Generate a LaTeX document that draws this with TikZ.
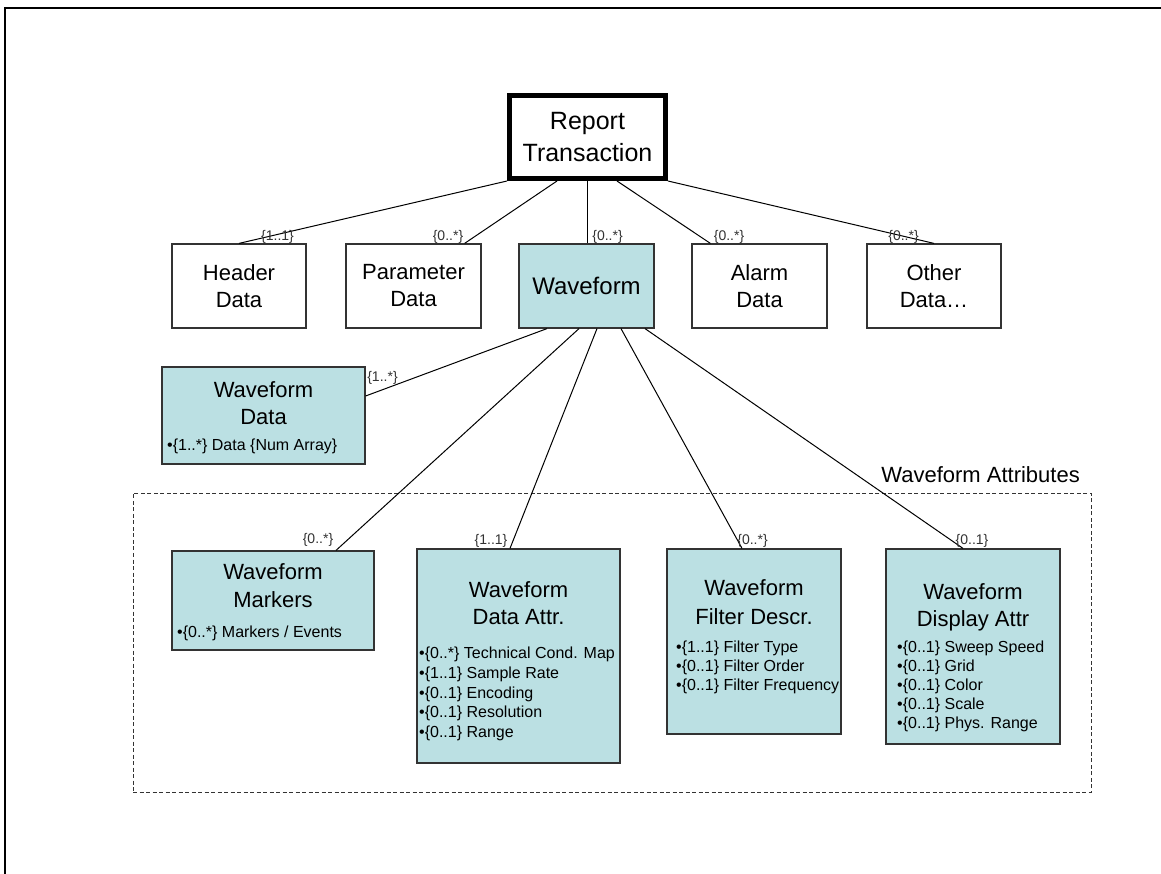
\documentclass[tikz,border=0pt]{standalone}
\usepackage{fontspec}
\setmainfont{Liberation Sans}
\definecolor{wfblue}{HTML}{BBE0E3}
\begin{document}
\begin{tikzpicture}[x=1pt,y=-1pt,
  box/.style={draw=black!80, line width=1.2pt, inner sep=0pt, align=center},
  bluebox/.style={box, fill=wfblue},
  conn/.style={draw=black, line width=1pt},
  mult/.style={font=\fontsize{14}{14}\selectfont, text=black!80, inner sep=0pt, anchor=base},
  ttl/.style={font=\fontsize{22}{22}\selectfont, inner sep=0pt, anchor=base},
  bul/.style={font=\fontsize{16}{16}\selectfont, inner sep=0pt, anchor=base west},
  topfont/.style={font=\fontsize{22}{27}\selectfont}]
\useasboundingbox (0,0) rectangle (1161,874);
% page frame (top and left edges)
\draw[line width=2pt] (5,874) -- (5,8) -- (1161,8);

% root
\node[box, line width=5pt, draw=black, minimum width=156pt, minimum height=83pt,
      font=\fontsize{25}{32}\selectfont] (rt) at (587.5,137) {Report\\Transaction};

% first level
\node[box, topfont, minimum width=134pt, minimum height=84pt] (hd) at (239,286) {Header\\Data};
\node[box, topfont, minimum width=135pt, minimum height=84pt] (pd) at (413.5,286) {Parameter\\Data};
\node[bluebox, font=\fontsize{24}{24}\selectfont, minimum width=135pt, minimum height=84pt] (wf) at (586.5,286) {Waveform};
\node[box, topfont, minimum width=135pt, minimum height=84pt] (ad) at (759.5,286) {Alarm\\Data};
\node[box, topfont, minimum width=134pt, minimum height=84pt] (od) at (934,286) {Other\\Data…};

% attributes group
\node[draw=black!80, dashed, dash pattern=on 4pt off 2.5pt, line width=1pt, inner sep=0pt,
      minimum width=958pt, minimum height=299pt] (grp) at (612,642.5) {};
\node[font=\fontsize{22}{22}\selectfont, inner sep=0pt, anchor=base east] (grplbl) at (1080,482.5) {Waveform Attributes};

% second level boxes
\node[bluebox, minimum width=203pt, minimum height=97pt] (wd) at (263.5,415.5) {};
\node[bluebox, minimum width=202pt, minimum height=99pt] (wm) at (273,600.5) {};
\node[bluebox, minimum width=203pt, minimum height=214pt] (wda) at (518.5,656) {};
\node[bluebox, minimum width=174pt, minimum height=185pt] (wfd) at (754,641.5) {};
\node[bluebox, minimum width=174pt, minimum height=195pt] (wdi) at (973,646.5) {};

% connectors from root
\draw[conn] (rt.south west) -- (hd.north);
\draw[conn] ([xshift=-30.5pt]rt.south) -- ([xshift=-17pt]pd.north east);
\draw[conn] (rt.south) -- (rt.south |- wf.north);
\draw[conn] ([xshift=29.5pt]rt.south) -- ([xshift=19pt]ad.north west);
\draw[conn] (rt.south east) -- (od.north);

% connectors from waveform
\draw[conn] ([xshift=-39.5pt]wf.south) -- ([yshift=19.5pt]wd.east);
\draw[conn] ([xshift=-7.5pt]wf.south) -- ([xshift=63pt]wm.north);
\draw[conn] ([xshift=10.5pt]wf.south) -- ([xshift=-8.5pt]wda.north);
\draw[conn] ([xshift=34.5pt]wf.south) -- ([xshift=-12pt]wfd.north);
\draw[conn] ([xshift=58.5pt]wf.south) -- ([xshift=-10pt]wdi.north);

% multiplicities
\node[mult] (m1) at (277.5,240.5) {\{1..1\}};
\node[mult] (m2) at (448,241) {\{0..*\}};
\node[mult] (m3) at (607.5,241) {\{0..*\}};
\node[mult] (m4) at (729,241) {\{0..*\}};
\node[mult] (m5) at (903.5,241) {\{0..*\}};
\node[mult] (m6) at (382.5,381) {\{1..*\}};
\node[mult] (m7) at (318,543) {\{0..*\}};
\node[mult] (m8) at (491,544) {\{1..1\}};
\node[mult] (m9) at (752.5,544) {\{0..*\}};
\node[mult] (m10) at (972,544) {\{0..1\}};

% Waveform Data
\node[ttl] (wdt1) at (wd.center |- 0,397) {Waveform};
\node[ttl] (wdt2) at (wd.center |- 0,424) {Data};
\node[bul] (wdb1) at (167,450) {•\{1..*\} Data \{Num Array\}};

% Waveform Markers
\node[ttl] (wmt1) at (wm.center |- 0,579) {Waveform};
\node[ttl] (wmt2) at (wm.center |- 0,607) {Markers};
\node[bul] (wmb1) at (177,637) {•\{0..*\} Markers / Events};

% Waveform Data Attr.
\node[ttl] (wdat1) at (wda.center |- 0,597) {Waveform};
\node[ttl] (wdat2) at (wda.center |- 0,624) {Data Attr.};
\node[bul] (wdab1) at (419,658) {•\{0..*\} Technical Cond. Map};
\node[bul] (wdab2) at (419,678) {•\{1..1\} Sample Rate};
\node[bul] (wdab3) at (419,698) {•\{0..1\} Encoding};
\node[bul] (wdab4) at (419,717) {•\{0..1\} Resolution};
\node[bul] (wdab5) at (419,737) {•\{0..1\} Range};

% Waveform Filter Descr.
\node[ttl] (wfdt1) at (wfd.center |- 0,595) {Waveform};
\node[ttl] (wfdt2) at (wfd.center |- 0,624) {Filter Descr.};
\node[bul] (wfdb1) at (676,652) {•\{1..1\} Filter Type};
\node[bul] (wfdb2) at (676,671) {•\{0..1\} Filter Order};
\node[bul] (wfdb3) at (676,690) {•\{0..1\} Filter Frequency};

% Waveform Display Attr
\node[ttl] (wdit1) at (wdi.center |- 0,599) {Waveform};
\node[ttl] (wdit2) at (wdi.center |- 0,626) {Display Attr};
\node[bul] (wdib1) at (897,652) {•\{0..1\} Sweep Speed};
\node[bul] (wdib2) at (897,671) {•\{0..1\} Grid};
\node[bul] (wdib3) at (897,690) {•\{0..1\} Color};
\node[bul] (wdib4) at (897,709) {•\{0..1\} Scale};
\node[bul] (wdib5) at (897,728) {•\{0..1\} Phys. Range};
\end{tikzpicture}
\end{document}
